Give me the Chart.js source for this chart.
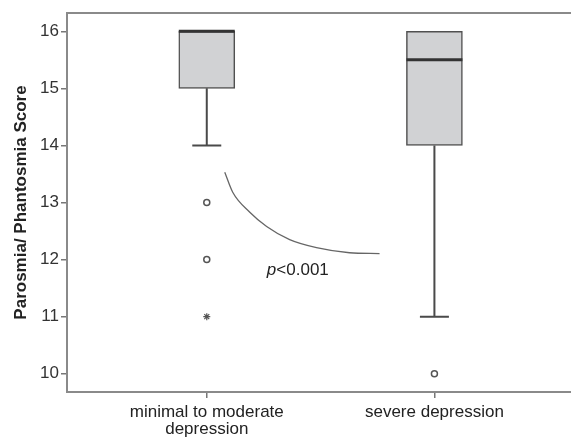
<!DOCTYPE html>
<html>
<head>
<meta charset="utf-8">
<script src="https://cdn.jsdelivr.net/npm/chart.js@4"></script>
<style>
  body { margin: 0; background: #fff; }
  #wrap { width: 571px; height: 437px; }
</style>
</head>
<body>
<div id="wrap"><canvas id="boxChart" width="571" height="437"></canvas></div>
<script>
// data
var groupPos = [1, 2];
var groupLabels = [["minimal to moderate", "depression"], ["severe depression"]];
var q1 = [15, 14];
var q3 = [16, 16];
var medians = [16, 15.5];
var whiskLow = [14, 11];
var whiskHigh = [16, 16];
var outliers = [{x: 1, y: 13}, {x: 1, y: 12}, {x: 2, y: 10}];
var extremes = [{x: 1, y: 11}];
var yTicks = [10, 11, 12, 13, 14, 15, 16];
// the curved bracket between the groups
var curveX = [1.079, 1.114, 1.189, 1.263, 1.364, 1.482, 1.627, 1.759];
var curveY = [13.53, 13.18, 12.83, 12.58, 12.35, 12.21, 12.12, 12.105];
var pText = {x: 1.40, y: 11.81};

var fontFam = "Arial, 'Liberation Sans', sans-serif";
var boxes = [];
for (var i = 0; i < groupPos.length; i++) {
    boxes.push({x: groupPos[i], y: [q1[i], q3[i]]});
}
var curve = [];
for (var j = 0; j < curveX.length; j++) {
    curve.push({x: curveX[j], y: curveY[j]});
}

var boxExtras = {
    id: 'boxExtras',
    afterDatasetsDraw: function (chart) {
        var ctx = chart.ctx;
        var xs = chart.scales.x, ys = chart.scales.y;
        var area = chart.chartArea;
        ctx.save();
        // top frame line
        ctx.strokeStyle = '#8a8a8a';
        ctx.lineWidth = 2;
        ctx.beginPath();
        ctx.moveTo(area.left, area.top);
        ctx.lineTo(chart.width, area.top);
        ctx.stroke();
        for (var i = 0; i < groupPos.length; i++) {
            var cx = xs.getPixelForValue(groupPos[i]);
            ctx.strokeStyle = '#4a4a4a';
            ctx.lineWidth = 2;
            ctx.beginPath();
            ctx.moveTo(cx, ys.getPixelForValue(q1[i]));
            ctx.lineTo(cx, ys.getPixelForValue(whiskLow[i]));
            ctx.moveTo(cx - 14.5, ys.getPixelForValue(whiskLow[i]));
            ctx.lineTo(cx + 14.5, ys.getPixelForValue(whiskLow[i]));
            if (whiskHigh[i] > q3[i]) {
                ctx.moveTo(cx, ys.getPixelForValue(q3[i]));
                ctx.lineTo(cx, ys.getPixelForValue(whiskHigh[i]));
            }
            ctx.stroke();
            // median
            ctx.strokeStyle = '#333';
            ctx.lineWidth = 3;
            ctx.beginPath();
            ctx.moveTo(cx - 28, ys.getPixelForValue(medians[i]));
            ctx.lineTo(cx + 28, ys.getPixelForValue(medians[i]));
            ctx.stroke();
        }
        // p value
        var px = xs.getPixelForValue(pText.x), py = ys.getPixelForValue(pText.y);
        ctx.fillStyle = '#222';
        ctx.textBaseline = 'middle';
        ctx.font = 'italic 17px ' + fontFam;
        var w1 = ctx.measureText('p').width;
        ctx.font = '17px ' + fontFam;
        var w2 = ctx.measureText('<0.001').width;
        var sx = px - (w1 + w2) / 2;
        ctx.textAlign = 'left';
        ctx.font = 'italic 17px ' + fontFam;
        ctx.fillText('p', sx, py);
        ctx.font = '17px ' + fontFam;
        ctx.fillText('<0.001', sx + w1, py);
        ctx.restore();
    }
};

var boxChart = new Chart(document.getElementById('boxChart'), {
    type: 'bar',
    data: {
        datasets: [{
            type: 'bar',
            data: boxes,
            backgroundColor: '#d1d2d4',
            borderColor: '#505050',
            borderWidth: 1.5,
            borderSkipped: false,
            barThickness: 56
        }, {
            type: 'scatter',
            data: outliers,
            pointStyle: 'circle',
            pointRadius: 3,
            pointBackgroundColor: '#fff',
            pointBorderColor: '#555',
            pointBorderWidth: 1.5
        }, {
            type: 'scatter',
            data: extremes,
            pointStyle: 'star',
            pointRadius: 3.5,
            pointBorderColor: '#555',
            pointBorderWidth: 1.2
        }, {
            type: 'line',
            data: curve,
            borderColor: '#666',
            borderWidth: 1.3,
            pointRadius: 0,
            cubicInterpolationMode: 'monotone',
            fill: false
        }]
    },
    options: {
        responsive: false,
        devicePixelRatio: 1,
        animation: false,
        layout: {autoPadding: false, padding: {top: 13, right: 0, left: 0, bottom: 0}},
        plugins: {legend: {display: false}, tooltip: {enabled: false}},
        scales: {
            x: {
                type: 'linear',
                offset: false,
                min: 0.386,
                max: 2.6,
                grid: {offset: false, drawOnChartArea: false, tickLength: 6, color: '#777', lineWidth: 1.5},
                border: {color: '#8a8a8a', width: 2},
                afterBuildTicks: function (axis) {
                    axis.ticks = groupPos.map(function (v) { return {value: v}; });
                },
                afterFit: function (axis) {
                    axis.height = 45;
                    axis.paddingRight = 0;
                    axis.paddingLeft = 0;
                },
                ticks: {
                    color: '#222',
                    font: {family: fontFam, size: 17, lineHeight: 1.0},
                    padding: 6,
                    maxRotation: 0,
                    autoSkip: false,
                    callback: function (v) {
                        var k = groupPos.indexOf(v);
                        return k >= 0 ? groupLabels[k] : '';
                    }
                }
            },
            y: {
                min: 9.68,
                max: 16.32,
                grid: {drawOnChartArea: false, tickLength: 6, color: '#777', lineWidth: 1.5},
                border: {color: '#8a8a8a', width: 2},
                afterBuildTicks: function (axis) {
                    axis.ticks = yTicks.map(function (v) { return {value: v}; });
                },
                afterFit: function (axis) { axis.width = 67; },
                ticks: {
                    color: '#333',
                    font: {family: fontFam, size: 17},
                    padding: 2
                },
                title: {
                    display: true,
                    text: 'Parosmia/ Phantosmia Score',
                    color: '#222',
                    font: {family: fontFam, size: 17, weight: 'bold'},
                    padding: {top: 11, bottom: 0}
                }
            }
        }
    },
    plugins: [boxExtras]
});
</script>
</body>
</html>
